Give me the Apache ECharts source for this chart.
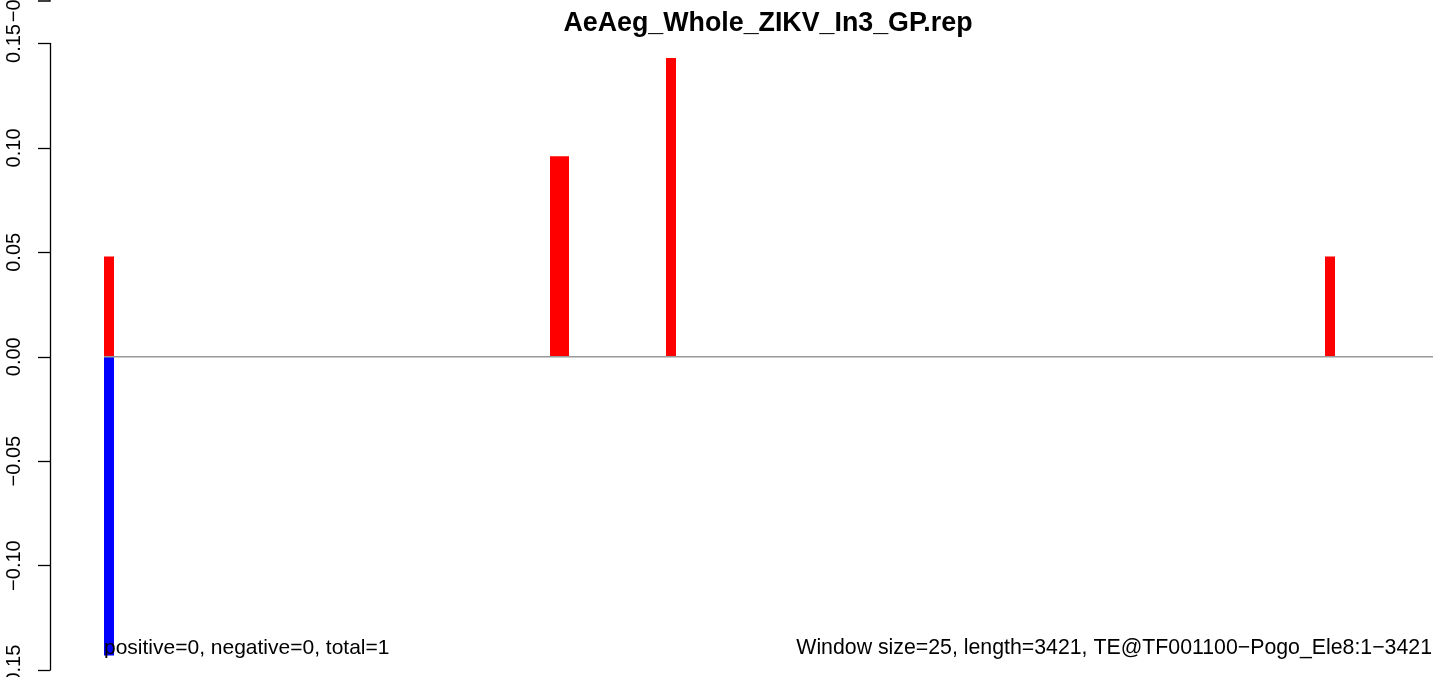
<!DOCTYPE html>
<html>
<head>
<meta charset="utf-8">
<script src="https://cdn.jsdelivr.net/npm/echarts@6/dist/echarts.min.js"></script>
<style>
html,body{margin:0;padding:0;background:#fff;}
#chart{width:1444px;height:677px;}
</style>
</head>
<body>
<div id="chart"></div>
<script>
// ---- data ----
const chartTitle = 'AeAeg_Whole_ZIKV_In3_GP.rep';
const windowSize = 25;
const seqLength = 3421;
const xMax = 3428;
const posBinStarts = [0, 1150, 1175, 1450, 3150];
const posValues = [0.048, 0.096, 0.096, 0.143, 0.048];
const negBinStarts = [0];
const negValues = [-0.143];
const yTicks = [-0.15, -0.10, -0.05, 0.00, 0.05, 0.10, 0.15];
const leftNote = 'positive=0, negative=0, total=1';
const rightNote = 'Window size=25, length=3421, TE@TF001100\u2212Pogo_Ele8:1\u22123421';
const remnantLabel = '\u22120.15';

const FONT = '"Liberation Sans", Arial, Helvetica, sans-serif';

const chart = echarts.init(document.getElementById('chart'), null, {renderer: 'canvas'});

function barItem(color) {
  return function (params, api) {
    const p0 = api.coord([api.value(0), api.value(2)]);
    const p1 = api.coord([api.value(1), 0]);
    const x0 = Math.round(p0[0]);
    const x1 = Math.round(p1[0]);
    return {
      type: 'rect',
      shape: {
        x: x0,
        y: Math.min(p0[1], p1[1]),
        width: x1 - x0,
        height: Math.abs(p1[1] - p0[1])
      },
      style: {fill: color}
    };
  };
}

const option = {
  backgroundColor: '#ffffff',
  animation: false,
  grid: {left: 104, right: 11, top: 43.5, bottom: 7, containLabel: false, outerBoundsMode: 'none'},
  xAxis: {type: 'value', min: 0, max: xMax, show: false},
  yAxis: {
    type: 'value',
    min: yTicks[0],
    max: yTicks[yTicks.length - 1],
    interval: 0.05,
    position: 'left',
    offset: 54,
    splitLine: {show: false},
    axisLine: {show: true, onZero: false, lineStyle: {color: '#000', width: 1.3}},
    axisTick: {show: true, inside: false, length: 12, lineStyle: {color: '#000', width: 1.3}},
    axisLabel: {
      rotate: 90,
      margin: 26,
      fontSize: 20,
      fontFamily: FONT,
      color: '#000',
      showMinLabel: true,
      showMaxLabel: true,
      hideOverlap: false,
      formatter: v => v.toFixed(2).replace('-', '\u2212')
    }
  },
  series: [
    {
      type: 'custom',
      renderItem: barItem('#ff0000'),
      encode: {x: [0, 1], y: 2},
      data: posBinStarts.map((s, i) => [s, s + windowSize, posValues[i]]),
      z: 2
    },
    {
      type: 'custom',
      renderItem: barItem('#0000ff'),
      encode: {x: [0, 1], y: 2},
      data: negBinStarts.map((s, i) => [s, s + windowSize, negValues[i]]),
      z: 2
    },
    {
      type: 'line',
      data: [[0, 0], [xMax, 0]],
      symbol: 'none',
      lineStyle: {color: '#999999', width: 1.5},
      z: 3
    }
  ],
  graphic: [
    {
      type: 'text', x: 768, y: 23.3, z: 10,
      style: {text: chartTitle, font: 'bold 26.8px ' + FONT, fill: '#000', align: 'center', verticalAlign: 'middle'}
    },
    {
      type: 'text', x: 104, y: 648.3, z: 10,
      style: {text: leftNote, font: '21px ' + FONT, fill: '#000', align: 'left', verticalAlign: 'middle'}
    },
    {
      type: 'text', x: 1432, y: 648.3, z: 10,
      style: {text: rightNote, font: '21.3px ' + FONT, fill: '#000', align: 'right', verticalAlign: 'middle'}
    },
    {
      type: 'text', x: 24, y: -3, rotation: Math.PI / 2, z: 10,
      style: {text: remnantLabel, font: '20px ' + FONT, fill: '#000', align: 'center', verticalAlign: 'bottom'}
    },
    {
      type: 'polyline', z: 10,
      shape: {points: [[38, 1], [50, 1], [50, 0]]},
      style: {stroke: '#000', lineWidth: 1.3, fill: null}
    }
  ]
};

chart.setOption(option);
</script>
</body>
</html>
